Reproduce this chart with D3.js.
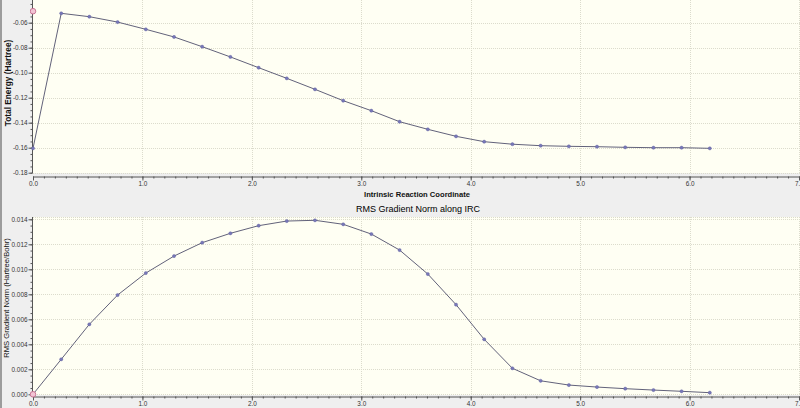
<!DOCTYPE html>
<html>
<head>
<meta charset="utf-8">
<script src="https://cdn.jsdelivr.net/npm/d3@7"></script>
<style>
  html, body { margin: 0; padding: 0; background: #efefef; }
  svg { display: block; font-family: "Liberation Sans", Arial, sans-serif; }
</style>
</head>
<body>
<svg id="chart" width="800" height="408"></svg>
<script>
// ---- data ----
const irc = [0, 0.258, 0.515, 0.773, 1.031, 1.289, 1.546, 1.804, 2.062, 2.319, 2.577, 2.835, 3.092,
             3.350, 3.608, 3.866, 4.123, 4.381, 4.639, 4.897, 5.154, 5.412, 5.670, 5.927, 6.185];
const totalEnergy = [-0.1605, -0.0525, -0.0552, -0.0595, -0.0653, -0.0714, -0.0792, -0.0874, -0.0960,
                     -0.1045, -0.1133, -0.1224, -0.1304, -0.1392, -0.1453, -0.1509, -0.1552, -0.1572,
                     -0.1584, -0.1589, -0.1592, -0.1597, -0.1600, -0.1600, -0.1605];
const rmsGradient = [0.0000, 0.0028, 0.0056, 0.00794, 0.0097, 0.01106, 0.01213, 0.01288, 0.01349,
                     0.01386, 0.01392, 0.0136, 0.01282, 0.01154, 0.00962, 0.00717, 0.0044, 0.00208,
                     0.00108, 0.00074, 0.00058, 0.00045, 0.00034, 0.00024, 0.00013];
const highlightEnergy = { x: 0, y: -0.0508 };
const highlightGradient = { x: 0, y: 0.0 };
const xTicks = [0, 1, 2, 3, 4, 5, 6, 7];
const energyTicks = [-0.18, -0.16, -0.14, -0.12, -0.10, -0.08, -0.06];
const gradientTicks = [0.000, 0.002, 0.004, 0.006, 0.008, 0.010, 0.012, 0.014];
const xLabel = "Intrinsic Reaction Coordinate";
const energyLabel = "Total Energy (Hartree)";
const gradientLabel = "RMS Gradient Norm (Hartree/Bohr)";
const gradientTitle = "RMS Gradient Norm along IRC";

// ---- drawing ----
const svg = d3.select("#chart");
svg.append("rect").attr("width", 800).attr("height", 408).attr("fill", "#efefef");
svg.append("rect").attr("x", 0).attr("y", 0).attr("width", 2).attr("height", 408).attr("fill", "#9c9c9c");

const x = d3.scaleLinear().domain([0, 7]).range([33, 799]);
const TICK_FONT = 6.4;

function panel(cfg) {
  const g = svg.append("g");
  const y = d3.scaleLinear().domain(cfg.yDomain).range(cfg.yRange);
  // plot area
  g.append("rect")
    .attr("x", 33).attr("y", cfg.top)
    .attr("width", 800 - 33).attr("height", cfg.bottom - cfg.top)
    .attr("fill", "#fffff3");
  // grid
  const grid = g.append("g").attr("stroke", "#dcdccc").attr("stroke-width", 1)
    .attr("stroke-dasharray", "1,1");
  grid.selectAll(".gx").data(xTicks.filter(d => d > 0)).join("line")
    .attr("x1", d => Math.round(x(d)) + 0.5).attr("x2", d => Math.round(x(d)) + 0.5)
    .attr("y1", cfg.top).attr("y2", cfg.bottom);
  grid.selectAll(".gy").data(cfg.yTicks).join("line")
    .attr("x1", 33).attr("x2", 800)
    .attr("y1", d => Math.round(y(d)) + 0.5).attr("y2", d => Math.round(y(d)) + 0.5);
  if (cfg.topGrid) {
    g.append("line").attr("x1", 33).attr("x2", 800)
      .attr("y1", cfg.top + 0.5).attr("y2", cfg.top + 0.5)
      .attr("stroke", "#dcdccc").attr("stroke-dasharray", "1,1");
  }

  // y axis (major + minor)
  const minorY = d3.range(0, 29).map(i => cfg.yTicks[0] + i * (cfg.yTicks[1] - cfg.yTicks[0]) / 4)
    .filter(v => y(v) >= cfg.top && y(v) <= cfg.bottom);
  const yMinor = g.append("g").attr("transform", "translate(32.5,0)")
    .call(d3.axisLeft(y).tickValues(minorY).tickSize(2).tickFormat(""));
  yMinor.select(".domain").remove();
  yMinor.selectAll("line").attr("stroke", "#555");
  const yAx = g.append("g").attr("transform", "translate(32.5,0)")
    .call(d3.axisLeft(y).tickValues(cfg.yTicks).tickSize(4).tickPadding(1)
      .tickFormat(cfg.fmt));
  yAx.select(".domain").attr("d", `M0,${cfg.top}V${cfg.bottom}`).attr("stroke", "#555");
  yAx.selectAll("line").attr("stroke", "#555");
  yAx.selectAll("text").attr("font-size", TICK_FONT).attr("fill", "#333")
    .attr("font-family", "'Liberation Sans', Arial, sans-serif");

  // x axis (major + minor)
  const ax = cfg.bottom + cfg.axisGap;
  const minorX = d3.range(0, 71).map(i => i / 10);
  const xMinor = g.append("g").attr("transform", `translate(0,${ax})`)
    .call(d3.axisBottom(x).tickValues(minorX).tickSize(2).tickFormat(""));
  xMinor.select(".domain").remove();
  xMinor.selectAll("line").attr("stroke", "#555");
  const xAx = g.append("g").attr("transform", `translate(0,${ax})`)
    .call(d3.axisBottom(x).tickValues(xTicks).tickSize(4).tickSizeOuter(0).tickPadding(1)
      .tickFormat(d3.format(".1f")));
  xAx.select(".domain").attr("stroke", "#555");
  xAx.selectAll("line").attr("stroke", "#555");
  xAx.selectAll("text").attr("font-size", TICK_FONT).attr("fill", "#333")
    .attr("font-family", "'Liberation Sans', Arial, sans-serif");

  // line + markers
  const pts = irc.map((d, i) => [d, cfg.values[i]]);
  const clipId = "clip" + Math.abs(cfg.top);
  g.append("clipPath").attr("id", clipId).append("rect")
    .attr("x", 30).attr("y", cfg.top - 4).attr("width", 775).attr("height", cfg.bottom - cfg.top + 8);
  const plot = g.append("g").attr("clip-path", `url(#${clipId})`);
  plot.append("path")
    .datum(pts)
    .attr("fill", "none")
    .attr("stroke", "#62627a")
    .attr("stroke-width", 1)
    .attr("d", d3.line().x(d => x(d[0])).y(d => y(d[1])));
  plot.selectAll(".pt").data(pts).join("circle")
    .attr("cx", d => x(d[0])).attr("cy", d => y(d[1])).attr("r", 1.6)
    .attr("fill", "#7878b8").attr("stroke", "#5a5a9a").attr("stroke-width", 0.4);
  plot.append("circle")
    .attr("cx", x(cfg.highlight.x)).attr("cy", y(cfg.highlight.y)).attr("r", 2.8)
    .attr("fill", "#f2c4d4").attr("stroke", "#c46c8c").attr("stroke-width", 0.9);

  // y label
  g.append("text")
    .attr("transform", `translate(${cfg.labelX},${cfg.labelY}) rotate(-90)`)
    .attr("text-anchor", "middle")
    .attr("dominant-baseline", "central")
    .attr("font-size", cfg.labelSize)
    .attr("font-weight", cfg.labelWeight)
    .attr("fill", "#111")
    .text(cfg.label);
  return g;
}

panel({
  top: -6, bottom: 173, axisGap: 3.5,
  yDomain: [-0.18, -0.06], yRange: [172.7, 22.7],
  yTicks: energyTicks,
  fmt: v => v.toFixed(2),
  values: totalEnergy,
  highlight: highlightEnergy,
  label: energyLabel, labelX: 7.5, labelY: 83, labelSize: 8.3, labelWeight: "bold",
  topGrid: false
});

panel({
  top: 217, bottom: 395, axisGap: 1.5,
  yDomain: [0, 0.014], yRange: [394.3, 219.3],
  yTicks: gradientTicks,
  fmt: v => v.toFixed(3),
  values: rmsGradient,
  highlight: highlightGradient,
  label: gradientLabel, labelX: 6.8, labelY: 298, labelSize: 7.6, labelWeight: "normal",
  topGrid: true
});

svg.append("text")
  .attr("x", 417).attr("y", 194.5)
  .attr("text-anchor", "middle").attr("dominant-baseline", "central")
  .attr("font-size", 7.6).attr("font-weight", "bold").attr("fill", "#111")
  .text(xLabel);

svg.append("text")
  .attr("x", 418).attr("y", 208.5)
  .attr("text-anchor", "middle").attr("dominant-baseline", "central")
  .attr("font-size", 9).attr("font-weight", "normal").attr("fill", "#000")
  .text(gradientTitle);
</script>
</body>
</html>
